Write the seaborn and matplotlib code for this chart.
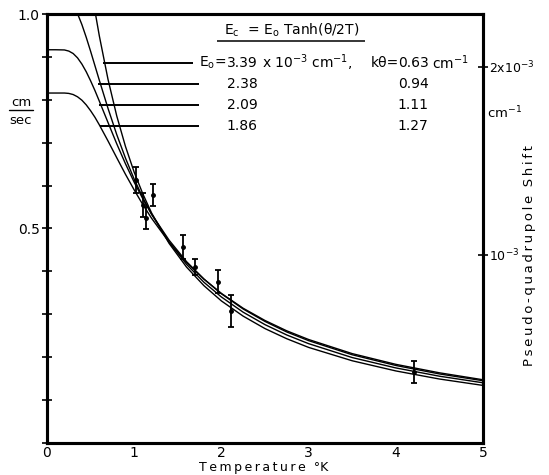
"""Ultrasonic velocity / pseudo-quadrupole shift vs temperature"""

import matplotlib
matplotlib.use("Agg")
import matplotlib.pyplot as plt
import seaborn as sns
import numpy as np
import pandas as pd
from matplotlib.lines import Line2D

# Temperature grid (K) the fitted curves were read on
T_grid = [0.0, 0.1, 0.2, 0.25, 0.3, 0.35, 0.4, 0.45, 0.5, 0.55, 0.6, 0.7, 0.8,
          0.9, 1.0, 1.1, 1.2, 1.4, 1.6, 1.8, 2.0, 2.25, 2.5, 2.75, 3.0, 3.5,
          4.0, 4.5, 5.0]

# Shift curves, units of 1e-3 cm^-1
shift_339 = [3.390, 3.389, 3.318, 3.214, 3.075, 2.917, 2.753, 2.592, 2.439, 2.296,
             2.164, 1.932, 1.738, 1.576, 1.439, 1.323, 1.222, 1.061, 0.935, 0.836,
             0.755, 0.674, 0.608, 0.554, 0.508, 0.437, 0.383, 0.340, 0.306]
shift_238 = [2.380, 2.380, 2.375, 2.359, 2.328, 2.282, 2.224, 2.156, 2.082, 2.005,
             1.928, 1.778, 1.639, 1.514, 1.402, 1.303, 1.215, 1.068, 0.950, 0.854,
             0.776, 0.695, 0.629, 0.574, 0.528, 0.454, 0.399, 0.355, 0.320]
shift_209 = [2.090, 2.090, 2.089, 2.083, 2.070, 2.047, 2.014, 1.973, 1.925, 1.873,
             1.817, 1.703, 1.590, 1.484, 1.386, 1.297, 1.216, 1.078, 0.964, 0.871,
             0.793, 0.712, 0.646, 0.590, 0.544, 0.469, 0.412, 0.367, 0.331]
shift_186 = [1.860, 1.860, 1.860, 1.858, 1.852, 1.840, 1.822, 1.797, 1.766, 1.731,
             1.691, 1.605, 1.516, 1.428, 1.345, 1.266, 1.194, 1.067, 0.960, 0.871,
             0.795, 0.716, 0.651, 0.596, 0.550, 0.475, 0.418, 0.373, 0.336]

curve_E0 = ["3.39", "2.38", "2.09", "1.86"]
curve_ktheta = ["0.63", "0.94", "1.11", "1.27"]

# Measured velocities (cm/sec)
T_data = [1.02, 1.10, 1.13, 1.21, 1.56, 1.70, 1.965, 2.11, 4.21]
v_data = [0.613, 0.555, 0.524, 0.578, 0.457, 0.410, 0.376, 0.308, 0.166]
v_err = [0.030, 0.028, 0.026, 0.026, 0.029, 0.019, 0.027, 0.037, 0.026]

# Label rows: height (shift units) and where each leader line runs (K)
row_y = [2.02, 1.908, 1.796, 1.685]
row_x0 = [0.64, 0.59, 0.60, 0.61]
row_x1 = [1.68, 1.74, 1.74, 1.74]

sns.set_style("white")
plt.rcParams['font.family'] = ['DejaVu Sans']
plt.rcParams['mathtext.default'] = 'regular'
for key in ('text.color', 'axes.labelcolor', 'xtick.color', 'ytick.color'):
    plt.rcParams[key] = 'black'

fig = plt.figure(figsize=(5.49, 4.75), dpi=100)
ax = fig.add_axes([0.0856, 0.0674, 0.7942, 0.9031])
ax2 = ax.twinx()

rows = []
for label, vals in zip(curve_E0, [shift_339, shift_238, shift_209, shift_186]):
    for t, e in zip(T_grid, vals):
        rows.append({'T': t, 'shift': e, 'curve': label})
df = pd.DataFrame(rows)

sns.lineplot(data=df, x='T', y='shift', units='curve', estimator=None,
             color='black', linewidth=1.0, legend=False, ax=ax2)

ax.errorbar(T_data, v_data, yerr=v_err, fmt='o', ms=2.5, color='black',
            elinewidth=1.3, capsize=2.5, capthick=1.3)

ax.set_xlim(0, 5)
ax.set_ylim(0, 1.0)
ax2.set_ylim(0, 2.28)

ax.set_xticks([0, 1, 2, 3, 4, 5])
ax.set_xticklabels(['0', '1', '2', '3', '4', '5'])
yt = np.round(np.arange(0, 1.01, 0.1), 1)
ax.set_yticks(yt)
ax.set_yticklabels(['0.5' if v == 0.5 else ('1.0' if v == 1.0 else '') for v in yt])
ax.tick_params(axis='y', direction='inout', length=6.5, width=1.2, pad=2, labelsize=10)
ax.tick_params(axis='x', direction='in', length=3, width=1.0, pad=2, labelsize=10)

ax2.set_yticks([1, 2])
ax2.set_yticklabels([r'10$^{-3}$', r'2x10$^{-3}$'])
ax2.tick_params(axis='y', direction='inout', length=7, width=1.2, pad=1, labelsize=9)
ax.set_xlabel('')
ax.set_ylabel('')
ax2.set_xlabel('')
ax2.set_ylabel('')

for a in (ax, ax2):
    for s in a.spines.values():
        s.set_linewidth(2.2)
        s.set_color('black')

# leader lines and parameter table
ax2.hlines(row_y, row_x0, row_x1, color='black', linewidth=1.4)
fs = 10
ax2.text(2.80, 2.195, r'E$_c$  = E$_o$ Tanh(θ/2T)', ha='center', va='center', fontsize=fs)
ax2.hlines(2.135, 1.95, 3.65, color='black', linewidth=1.1)

ax2.text(2.06, row_y[0], r'E$_o$=', ha='right', va='center', fontsize=fs)
ax2.text(2.46, row_y[0], r'x 10$^{-3}$ cm$^{-1}$,', ha='left', va='center', fontsize=fs)
ax2.text(4.04, row_y[0], 'kθ=', ha='right', va='center', fontsize=fs)
ax2.text(4.41, row_y[0], r'cm$^{-1}$', ha='left', va='center', fontsize=fs)
for y, e0, kt in zip(row_y, curve_E0, curve_ktheta):
    ax2.text(2.24, y, e0, ha='center', va='center', fontsize=fs)
    ax2.text(4.20, y, kt, ha='center', va='center', fontsize=fs)

# axis titles
fig.text(21 / 549, 1 - 102 / 475, 'cm', ha='center', va='center', fontsize=9.5)
fig.text(21 / 549, 1 - 120 / 475, 'sec', ha='center', va='center', fontsize=9.5)
fig.add_artist(Line2D([9 / 549, 33 / 549], [1 - 110 / 475, 1 - 110 / 475],
                      color='black', linewidth=1.0))
fig.text(487 / 549, 1 - 113 / 475, r'cm$^{-1}$', ha='left', va='center', fontsize=9.5)

ts = '\u2009'
fig.text(264 / 549, 1 - 467 / 475, ts.join('Temperature') + '  °K',
         ha='center', va='center', fontsize=9)
fig.text(529 / 549, 1 - 256 / 475, ts.join('Pseudo-quadrupole') + '  ' + ts.join('Shift'),
         ha='center', va='center', rotation=90, fontsize=9.5)

fig.savefig('out.png', dpi=100)
